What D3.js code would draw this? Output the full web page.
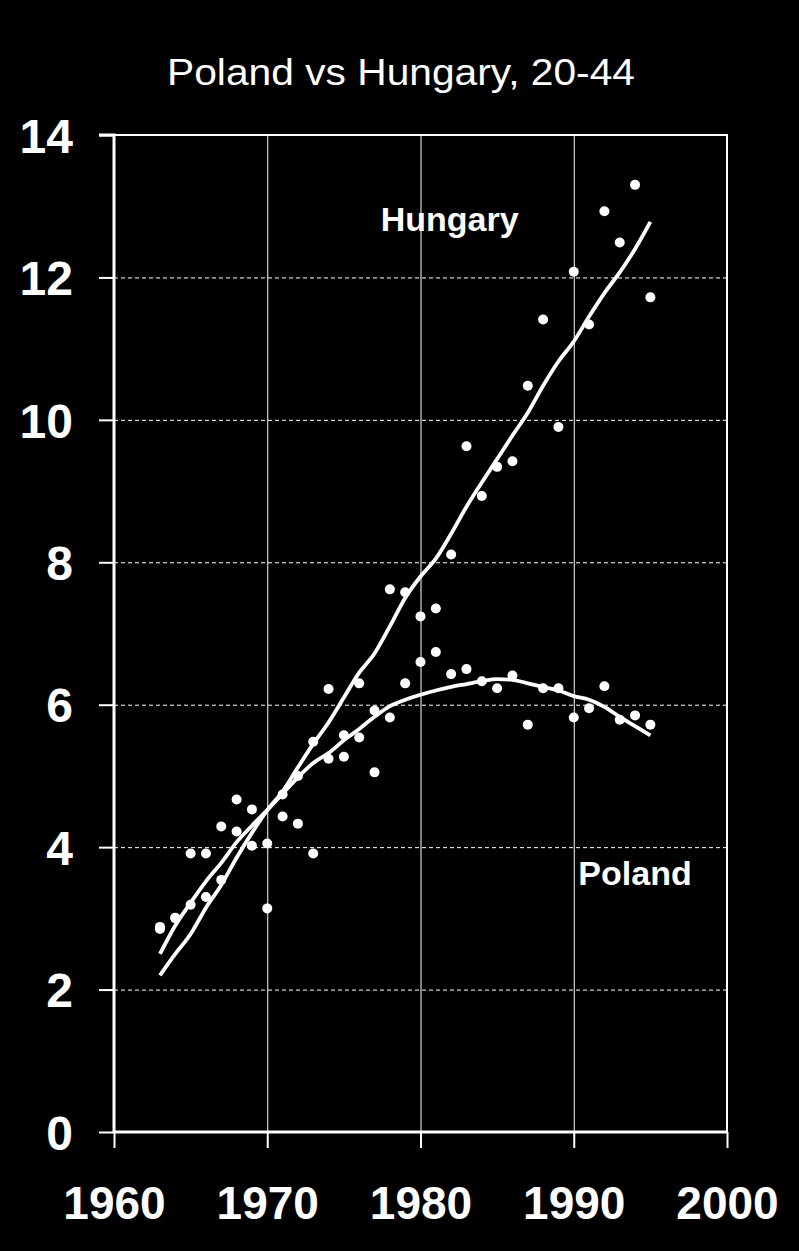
<!DOCTYPE html>
<html>
<head>
<meta charset="utf-8">
<script src="https://cdn.jsdelivr.net/npm/d3@7/dist/d3.min.js"></script>
<style>
  html, body { margin: 0; padding: 0; background: #000; }
  svg { display: block; }
</style>
</head>
<body>
<script>
// ---- Data ----
const title = "Poland vs Hungary, 20-44";
const years = d3.range(1963, 1996);
const hungaryPoints = [2.85, 3.0, 3.19, 3.3, 3.54, 4.22, 4.02, 3.14, 4.74, 5.0, 5.48, 6.22, 5.57, 6.3, 5.92, 7.62, 7.58, 7.24, 7.35, 8.11, 9.63, 8.93, 9.34, 9.42, 10.48, 11.41, 9.9, 12.08, 11.34, 12.93, 12.49, 13.3, 11.72];
const polandPoints = [2.88, 3.01, 3.91, 3.91, 4.29, 4.67, 4.53, 4.05, 4.43, 4.33, 3.91, 5.24, 5.27, 5.54, 5.05, 5.82, 6.3, 6.6, 6.74, 6.43, 6.5, 6.33, 6.23, 6.41, 5.72, 6.23, 6.23, 5.82, 5.95, 6.26, 5.79, 5.85, 5.72];
const hungaryTrend = [2.2, 2.5, 2.78, 3.15, 3.47, 3.85, 4.2, 4.52, 4.78, 5.12, 5.45, 5.75, 6.1, 6.45, 6.72, 7.1, 7.5, 7.8, 8.05, 8.4, 8.78, 9.12, 9.45, 9.78, 10.1, 10.48, 10.82, 11.1, 11.45, 11.78, 12.07, 12.4, 12.78];
const polandTrend = [2.5, 2.9, 3.22, 3.52, 3.78, 4.07, 4.3, 4.52, 4.75, 4.98, 5.18, 5.32, 5.5, 5.66, 5.83, 5.98, 6.07, 6.14, 6.2, 6.25, 6.29, 6.33, 6.36, 6.35, 6.3, 6.25, 6.2, 6.12, 6.07, 5.97, 5.83, 5.7, 5.57];
const xTicks = [1960, 1970, 1980, 1990, 2000];
const yTicks = [0, 2, 4, 6, 8, 10, 12, 14];
const seriesLabels = [
  { name: "Hungary", year: 1977.4, value: 12.65 },
  { name: "Poland", year: 1990.3, value: 3.47 }
];

// ---- Layout ----
const W = 799, H = 1251;
const svg = d3.select("body").append("svg").attr("width", W).attr("height", H)
  .style("background", "#000");
svg.append("rect").attr("width", W).attr("height", H).attr("fill", "#000");

const x = d3.scaleLinear().domain([1960, 2000]).range([114, 727]);
const y = d3.scaleLinear().domain([0, 14]).range([1132, 135]);

// Horizontal dashed grid
svg.append("g").selectAll("line").data(yTicks.filter(v => v > 0 && v < 14)).join("line")
  .attr("x1", x(1960)).attr("x2", x(2000))
  .attr("y1", d => y(d) + 0.5).attr("y2", d => y(d) + 0.5)
  .attr("stroke", "#fff").attr("stroke-width", 1).attr("stroke-dasharray", "4,3");

// Vertical grid
svg.append("g").selectAll("line").data(xTicks.filter(v => v > 1960 && v < 2000)).join("line")
  .attr("x1", d => x(d) + 0.5).attr("x2", d => x(d) + 0.5)
  .attr("y1", y(14)).attr("y2", y(0))
  .attr("stroke", "#fff").attr("stroke-width", 1);

// Top & right border
svg.append("path")
  .attr("d", `M${x(1960)},${y(14)}H${x(2000)}V${y(0)}`)
  .attr("fill", "none").attr("stroke", "#fff").attr("stroke-width", 2);

// Axes
const yAxis = d3.axisLeft(y).tickValues(yTicks).tickSize(15).tickPadding(26).tickFormat(d3.format("d"));
const gy = svg.append("g").attr("transform", `translate(${x(1960)},0)`).call(yAxis);
gy.select(".domain").attr("stroke", "#fff").attr("stroke-width", 3)
  .attr("d", `M-15,${y(14)}H0V${y(0)}`);
gy.selectAll(".tick line").attr("stroke", "#fff").attr("stroke-width", 2);
gy.selectAll(".tick text").attr("fill", "#fff")
  .style("font-family", "'Liberation Sans', Arial, sans-serif")
  .style("font-weight", "bold").style("font-size", "48px")
  .attr("dy", "0.36em");

const xAxis = d3.axisBottom(x).tickValues(xTicks).tickSize(16).tickPadding(38).tickFormat(d3.format("d"));
const gx = svg.append("g").attr("transform", `translate(0,${y(0)})`).call(xAxis);
gx.select(".domain").attr("stroke", "#fff").attr("stroke-width", 3)
  .attr("d", `M${x(1960)},0H${x(2000)}`);
gx.selectAll(".tick line").attr("stroke", "#fff").attr("stroke-width", 2);
gx.selectAll(".tick text").attr("fill", "#fff")
  .style("font-family", "'Liberation Sans', Arial, sans-serif")
  .style("font-weight", "bold").style("font-size", "46px")
  .attr("dy", "0.71em");

// Trend lines
const line = d3.line().x((d, i) => x(years[i])).y(d => y(d)).curve(d3.curveMonotoneX);
[hungaryTrend, polandTrend].forEach(t => {
  svg.append("path").attr("d", line(t)).attr("fill", "none")
    .attr("stroke", "#fff").attr("stroke-width", 3.8).attr("stroke-linecap", "butt");
});

// Points
[hungaryPoints, polandPoints].forEach(p => {
  svg.append("g").selectAll("circle").data(p).join("circle")
    .attr("cx", (d, i) => x(years[i])).attr("cy", d => y(d)).attr("r", 5)
    .attr("fill", "#fff");
});

// Series labels
svg.append("g").selectAll("text").data(seriesLabels).join("text")
  .attr("x", d => x(d.year)).attr("y", d => y(d.value))
  .attr("fill", "#fff")
  .style("font-family", "'Liberation Sans', Arial, sans-serif")
  .style("font-weight", "bold").style("font-size", "34px")
  .text(d => d.name);

// Title
svg.append("text").attr("x", 401).attr("y", 85).attr("text-anchor", "middle")
  .attr("fill", "#fff")
  .style("font-family", "'Liberation Sans', Arial, sans-serif")
  .style("font-size", "37px")
  .attr("textLength", 468).attr("lengthAdjust", "spacingAndGlyphs")
  .text(title);
</script>
</body>
</html>
